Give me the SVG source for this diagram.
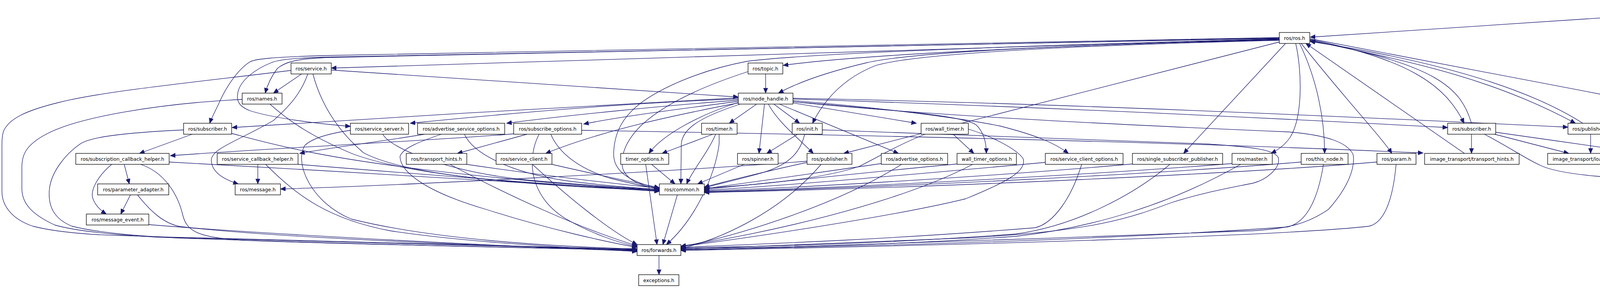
<svg xmlns="http://www.w3.org/2000/svg" width="4944" height="736" viewBox="0 0 4944 736">
<defs>
<marker id="a" markerUnits="userSpaceOnUse" markerWidth="15" markerHeight="13" refX="13" refY="5.5" orient="auto"><path d="M0,0 L13,5.5 L0,11 z" fill="#191970" stroke="#191970" stroke-width="1"/></marker>
<style>
.n rect{fill:#fff;stroke:#000;stroke-width:1.3}
.g rect{fill:#fff;stroke:#bfbfbf;stroke-width:1.3}
.p rect{fill:#bfbfbf;stroke:#000;stroke-width:1.3}
text{font-family:"DejaVu Sans","Liberation Sans",sans-serif;font-size:12.5px;text-anchor:middle;fill:#000}
#edges path{fill:none;stroke:#191970;stroke-width:1.3;marker-end:url(#a)}
</style>
</defs>
<rect width="4944" height="736" fill="#fff"/>
<g id="edges">
<path d="M4430,24 L3354,95"/>
<path d="M4498,34 L4497,345 C4496,410 4484,440 4481,470"/>
<path d="M4522,34 C4580,100 4622,150 4622,210 L4622,260 C4624,330 4660,365 4682,392"/>
<path d="M3275,99 L848,174"/>
<path d="M3275,97 L840,147 C760,150 730,158 710,175 C695,195 685,215 679,238"/>
<path d="M3275,96 L830,142 C700,146 655,150 640,158 C605,180 575,230 560,265 C548,290 540,305 537,315"/>
<path d="M3275,98 L830,146 C750,149 715,152 695,160 C650,178 618,205 610,232 C603,258 612,272 640,283 C700,302 810,316 897,323"/>
<path d="M3275,101 C2700,116 2200,140 2005,167"/>
<path d="M3275,102 C2600,118 2320,138 2220,160 C2110,186 2040,212 1993,238"/>
<path d="M3275,103 C2600,120 2320,143 2240,168 C2160,200 2110,255 2080,315"/>
<path d="M3275,100 C2600,116 2050,138 1911,157 C1800,178 1700,220 1642,262 C1592,300 1573,340 1571,390 C1569,432 1600,462 1688,482"/>
<path d="M3276,107 L2160,392"/>
<path d="M3291,111 L3030,392"/>
<path d="M3317,111 C3333,180 3336,300 3302,352 C3288,372 3272,383 3254,392"/>
<path d="M3327,111 C3370,200 3391,300 3391,392"/>
<path d="M3331,111 C3450,260 3540,355 3563,392"/>
<path d="M3354,101 C3600,150 3700,215 3748,315"/>
<path d="M3354,103 C3620,160 3820,200 4033,315"/>
<path d="M3354,99 L4120,245 C4400,310 4560,355 4646,392"/>
<path d="M3767,315 C3740,225 3680,165 3354,104"/>
<path d="M4052,315 C3950,250 3760,168 3354,106"/>
<path d="M3749,392 L3343,111"/>
<path d="M3767,343 L3767,392"/>
<path d="M3800,343 C3870,380 3905,405 3942,422 C4000,450 4150,456 4278,460 C4330,462 4370,467 4396,473"/>
<path d="M3826,343 L4016,392"/>
<path d="M3829,338 C3950,355 4110,378 4209,392"/>
<path d="M4072,343 L4072,392"/>
<path d="M4129,333 C4300,350 4460,372 4583,392"/>
<path d="M4129,330 C4260,342 4340,358 4380,380 C4430,410 4458,440 4467,470"/>
<path d="M4120,343 L4264,392"/>
<path d="M4308,420 L4308,470"/>
<path d="M4653,420 L4525,470"/>
<path d="M4690,420 L4677,470"/>
<path d="M4724,420 L4825,470"/>
<path d="M1489,333 C2200,345 3000,362 3643,391"/>
<path d="M772,189 L700,238"/>
<path d="M745,180 C500,210 263,233 150,262 C60,284 24,305 10,333 C4,348 5,365 5,400 L5,490 C5,525 30,560 84,578 C150,595 250,601 315,602 C800,618 1300,630 1631,637"/>
<path d="M801,189 C820,260 860,330 930,390 C1050,455 1400,475 1688,484"/>
<path d="M848,179 L1890,248"/>
<path d="M788,189 C770,240 740,272 700,308 C610,360 540,380 541,410 C542,442 578,460 610,470"/>
<path d="M620,254 C400,265 200,300 120,342 C62,372 55,400 56,432 L56,482 C56,520 82,548 140,575 C200,592 300,600 400,606 C900,622 1300,632 1631,638"/>
<path d="M691,266 C740,310 800,350 900,392 C1050,450 1400,478 1688,486"/>
<path d="M492,343 L357,392"/>
<path d="M470,332 C300,340 228,352 205,368 C170,392 128,440 126,490 C124,530 140,560 184,578 C250,595 350,603 450,608 C900,624 1300,633 1631,639"/>
<path d="M593,341 C650,356 700,370 780,386 C1000,432 1400,470 1688,487"/>
<path d="M318,420 L331,470"/>
<path d="M286,420 C250,450 232,485 237,505 C243,525 258,538 272,547"/>
<path d="M360,420 C420,440 455,495 468,550 C478,590 505,607 620,614 C900,625 1400,633 1631,640"/>
<path d="M432,414 C600,424 750,432 824,436 C1200,458 1500,478 1688,488"/>
<path d="M334,498 L309,547"/>
<path d="M352,498 C385,540 420,572 462,579 C700,608 1300,630 1631,641"/>
<path d="M381,574 C700,600 1300,630 1631,642"/>
<path d="M660,420 L660,470"/>
<path d="M763,420 C800,423 812,424 824,425 C1200,455 1500,478 1688,489"/>
<path d="M680,420 C760,500 840,560 1000,590 C1200,620 1450,632 1631,643"/>
<path d="M980,343 C1000,380 1150,440 1350,460 C1500,474 1620,480 1688,485"/>
<path d="M897,333 C850,340 800,352 780,372 C752,420 800,520 900,560 C1100,610 1400,630 1631,636"/>
<path d="M1087,343 C1000,358 850,377 767,392"/>
<path d="M1189,343 C1210,390 1300,440 1450,462 C1560,476 1640,481 1688,484"/>
<path d="M1130,343 C1080,360 1030,378 1024,400 C1025,440 1090,490 1244,535 C1400,585 1560,620 1631,632"/>
<path d="M1316,342 C1100,360 700,378 436,398"/>
<path d="M1349,343 L1171,392"/>
<path d="M1410,343 C1430,390 1480,430 1560,455 C1620,470 1660,478 1688,483"/>
<path d="M1380,343 C1350,400 1350,500 1450,560 C1520,600 1590,622 1631,630"/>
<path d="M1194,420 C1400,450 1600,472 1688,481"/>
<path d="M1152,420 C1300,500 1500,590 1631,628"/>
<path d="M1413,420 C1520,445 1620,465 1688,480"/>
<path d="M1363,420 C1450,500 1560,590 1631,625"/>
<path d="M1890,250 C1500,270 1000,300 594,326"/>
<path d="M1890,253 C1600,263 1300,290 1050,315"/>
<path d="M1890,256 C1700,270 1450,295 1297,315"/>
<path d="M1890,259 C1760,276 1600,296 1494,317"/>
<path d="M1890,263 C1750,290 1550,330 1397,392"/>
<path d="M1937,266 L1867,315"/>
<path d="M1957,266 L1943,392"/>
<path d="M1967,266 C1990,310 2040,350 2082,392"/>
<path d="M1981,266 L2047,315"/>
<path d="M1995,266 L2300,392"/>
<path d="M2030,263 L2346,315"/>
<path d="M1890,262 C1800,290 1700,340 1661,392"/>
<path d="M1895,266 C1790,300 1745,330 1744,370 L1743,470"/>
<path d="M2030,260 C2300,288 2700,312 3296,337 C3400,345 3450,365 3464,395 C3470,430 3450,480 3401,535 C3350,570 3300,585 3200,590 C2700,610 2000,630 1743,640"/>
<path d="M2030,253 C2500,268 3000,288 3706,326"/>
<path d="M2030,251 C2600,262 3200,286 4014,325"/>
<path d="M2030,257 C2250,275 2450,300 2560,322 C2650,345 2700,365 2735,392"/>
<path d="M2030,260 C2300,282 2470,296 2500,320 C2520,340 2525,368 2525,392"/>
<path d="M1960,189 L1960,238"/>
<path d="M1915,183 C1800,220 1700,265 1640,322 C1600,362 1588,400 1594,430 C1604,460 1640,475 1688,483"/>
<path d="M1825,343 L1695,392"/>
<path d="M1832,343 C1815,385 1770,440 1758,470"/>
<path d="M1841,343 L1841,368 C1830,450 1780,560 1706,625"/>
<path d="M1668,420 L1728,470"/>
<path d="M1653,420 L1682,625"/>
<path d="M2042,343 L1963,392"/>
<path d="M2060,343 C2050,385 2025,420 1950,442 C1880,462 1830,472 1803,480"/>
<path d="M2105,332 C2500,345 2900,362 3092,368 C3200,375 3262,382 3272,402 C3280,430 3240,460 3208,468 C3150,480 3080,492 2998,518 C2900,555 2800,592 2472,608 C2200,620 1900,630 1743,637"/>
<path d="M2440,343 L2493,392"/>
<path d="M2368,343 C2300,370 2250,400 2200,425 C2100,460 1900,475 1803,481"/>
<path d="M2479,330 C2530,345 2600,378 2619,405 C2632,440 2560,472 2472,508 C2280,555 1900,610 1743,630"/>
<path d="M1905,420 L1786,470"/>
<path d="M2066,415 C1950,440 1850,466 1803,478"/>
<path d="M2102,420 C2000,540 1850,610 1743,635"/>
<path d="M2066,412 C1700,440 1000,475 718,483"/>
<path d="M2256,418 C2100,440 1900,470 1803,482"/>
<path d="M2308,420 C2150,520 1900,600 1743,631"/>
<path d="M2450,419 C2200,442 1950,470 1803,484"/>
<path d="M2490,420 C2300,520 1950,600 1743,629"/>
<path d="M2676,415 C2400,440 2000,476 1803,486"/>
<path d="M2769,420 C2745,500 2700,570 2650,582 C2300,610 2000,622 1743,632"/>
<path d="M2899,419 C2600,446 2100,478 1803,488"/>
<path d="M2995,420 C2900,500 2750,578 2600,598 C2300,620 2000,630 1743,633"/>
<path d="M3154,418 C2800,446 2200,479 1803,490"/>
<path d="M3176,420 C3000,520 2800,582 2600,604 C2300,626 2000,633 1743,635"/>
<path d="M3331,414 C3000,442 2300,479 1803,491"/>
<path d="M3388,420 C3372,520 3340,570 3296,580 C2800,615 2200,630 1743,638"/>
<path d="M3525,414 C3200,442 2400,480 1803,492"/>
<path d="M3574,420 C3565,520 3540,570 3505,578 C3300,602 2500,626 1743,640"/>
<path d="M1734,498 L1697,625"/>
<path d="M1687,653 L1687,702"/>
</g>
<g id="publisher_plugin" class="p"><rect x="4430" y="6" width="138" height="28"/><text x="4499" y="24.5">publisher_plugin.h</text></g>
<g id="ros_h" class="n"><rect x="3275" y="83" width="78" height="28"/><text x="3314" y="101.5">ros/ros.h</text></g>
<g id="service_h" class="n"><rect x="745" y="161" width="103" height="28"/><text x="796.5" y="179.5">ros/service.h</text></g>
<g id="topic_h" class="n"><rect x="1915" y="161" width="89" height="28"/><text x="1959.5" y="179.5">ros/topic.h</text></g>
<g id="names_h" class="n"><rect x="620" y="238" width="102" height="28"/><text x="671" y="256.5">ros/names.h</text></g>
<g id="node_handle_h" class="n"><rect x="1890" y="238" width="140" height="28"/><text x="1960" y="256.5">ros/node_handle.h</text></g>
<g id="subscriber_h_1" class="n"><rect x="470" y="315" width="123" height="28"/><text x="531.5" y="333.5">ros/subscriber.h</text></g>
<g id="service_server_h" class="n"><rect x="897" y="315" width="149" height="28"/><text x="971.5" y="333.5">ros/service_server.h</text></g>
<g id="advertise_service_options_h" class="n"><rect x="1069" y="315" width="223" height="28"/><text x="1180.5" y="333.5">ros/advertise_service_options.h</text></g>
<g id="subscribe_options_h" class="n"><rect x="1315" y="315" width="174" height="28"/><text x="1402" y="333.5">ros/subscribe_options.h</text></g>
<g id="timer_h" class="n"><rect x="1796" y="315" width="91" height="28"/><text x="1841.5" y="333.5">ros/timer.h</text></g>
<g id="init_h" class="n"><rect x="2028" y="315" width="77" height="28"/><text x="2066.5" y="333.5">ros/init.h</text></g>
<g id="wall_timer_h" class="n"><rect x="2358" y="315" width="121" height="28"/><text x="2418.5" y="333.5">ros/wall_timer.h</text></g>
<g id="subscriber_h_2" class="n"><rect x="3706" y="315" width="123" height="28"/><text x="3767.5" y="333.5">ros/subscriber.h</text></g>
<g id="publisher_h_2" class="n"><rect x="4014" y="315" width="115" height="28"/><text x="4071.5" y="333.5">ros/publisher.h</text></g>
<g id="subscription_callback_helper_h" class="n"><rect x="194" y="392" width="239" height="28"/><text x="313.5" y="410.5">ros/subscription_callback_helper.h</text></g>
<g id="service_callback_helper_h" class="n"><rect x="556" y="392" width="207" height="28"/><text x="659.5" y="410.5">ros/service_callback_helper.h</text></g>
<g id="transport_hints_h" class="n"><rect x="1040" y="392" width="155" height="28"/><text x="1117.5" y="410.5">ros/transport_hints.h</text></g>
<g id="service_client_h" class="n"><rect x="1270" y="392" width="143" height="28"/><text x="1341.5" y="410.5">ros/service_client.h</text></g>
<g id="timer_options_h" class="n"><rect x="1589" y="392" width="123" height="28"/><text x="1650.5" y="410.5">timer_options.h</text></g>
<g id="spinner_h" class="n"><rect x="1888" y="392" width="104" height="28"/><text x="1940" y="410.5">ros/spinner.h</text></g>
<g id="publisher_h_1" class="n"><rect x="2066" y="392" width="115" height="28"/><text x="2123.5" y="410.5">ros/publisher.h</text></g>
<g id="advertise_options_h" class="n"><rect x="2256" y="392" width="170" height="28"/><text x="2341" y="410.5">ros/advertise_options.h</text></g>
<g id="wall_timer_options_h" class="n"><rect x="2450" y="392" width="152" height="28"/><text x="2526" y="410.5">wall_timer_options.h</text></g>
<g id="service_client_options_h" class="n"><rect x="2676" y="392" width="199" height="28"/><text x="2775.5" y="410.5">ros/service_client_options.h</text></g>
<g id="single_subscriber_publisher_h_1" class="n"><rect x="2899" y="392" width="231" height="28"/><text x="3014.5" y="410.5">ros/single_subscriber_publisher.h</text></g>
<g id="master_h" class="n"><rect x="3154" y="392" width="103" height="28"/><text x="3205.5" y="410.5">ros/master.h</text></g>
<g id="this_node_h" class="n"><rect x="3331" y="392" width="120" height="28"/><text x="3391" y="410.5">ros/this_node.h</text></g>
<g id="param_h" class="n"><rect x="3525" y="392" width="100" height="28"/><text x="3575" y="410.5">ros/param.h</text></g>
<g id="it_transport_hints_h" class="n"><rect x="3647" y="392" width="242" height="28"/><text x="3768" y="410.5">image_transport/transport_hints.h</text></g>
<g id="it_loader_fwds_h" class="n"><rect x="3962" y="392" width="219" height="28"/><text x="4071.5" y="410.5">image_transport/loader_fwds.h</text></g>
<g id="it_exception_h" class="n"><rect x="4205" y="392" width="206" height="28"/><text x="4308" y="410.5">image_transport/exception.h</text></g>
<g id="it_single_subscriber_publisher_h" class="n"><rect x="4535" y="392" width="319" height="28"/><text x="4694.5" y="410.5">image_transport/single_subscriber_publisher.h</text></g>
<g id="parameter_adapter_h" class="n"><rect x="250" y="470" width="182" height="28"/><text x="341" y="488.5">ros/parameter_adapter.h</text></g>
<g id="message_h" class="n"><rect x="602" y="470" width="116" height="28"/><text x="660" y="488.5">ros/message.h</text></g>
<g id="common_h" class="n"><rect x="1688" y="470" width="115" height="28"/><text x="1745.5" y="488.5">ros/common.h</text></g>
<g id="stdexcept" class="g"><rect x="4266" y="470" width="84" height="28"/><text x="4308" y="488.5">stdexcept</text></g>
<g id="sensor_msgs_Image_h" class="g"><rect x="4396" y="470" width="162" height="28"/><text x="4477" y="488.5">sensor_msgs/Image.h</text></g>
<g id="boost_function_hpp" class="g"><rect x="4602" y="470" width="142" height="28"/><text x="4673" y="488.5">boost/function.hpp</text></g>
<g id="boost_noncopyable_hpp" class="g"><rect x="4768" y="470" width="170" height="28"/><text x="4853" y="488.5">boost/noncopyable.hpp</text></g>
<g id="message_event_h" class="n"><rect x="221" y="547" width="160" height="28"/><text x="301" y="565.5">ros/message_event.h</text></g>
<g id="forwards_h" class="n"><rect x="1631" y="625" width="112" height="28"/><text x="1687" y="643.5">ros/forwards.h</text></g>
<g id="exceptions_h" class="n"><rect x="1635" y="702" width="103" height="28"/><text x="1686.5" y="720.5">exceptions.h</text></g>
</svg>
